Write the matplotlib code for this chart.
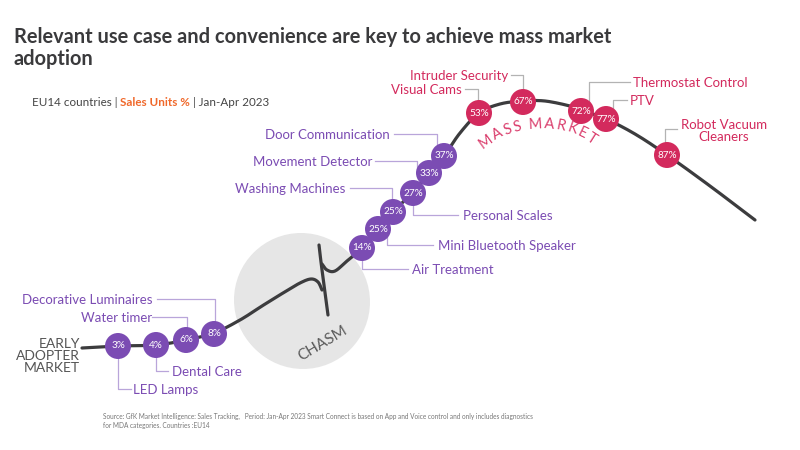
import numpy as np
import matplotlib
matplotlib.use("Agg")
import matplotlib.pyplot as plt
from matplotlib.patches import Circle
from matplotlib.font_manager import FontProperties
from matplotlib.textpath import text_to_path

plt.rcParams['font.family'] = ['Lato', 'DejaVu Sans']

# data
categories = ["LED Lamps", "Dental Care", "Water timer", "Decorative Luminaires",
              "Air Treatment", "Mini Bluetooth Speaker", "Washing Machines",
              "Personal Scales", "Movement Detector", "Door Communication",
              "Visual Cams", "Intruder Security", "Thermostat Control", "PTV",
              "Robot Vacuum\nCleaners"]
values = [3, 4, 6, 8, 14, 25, 25, 27, 33, 37, 53, 67, 72, 77, 87]
mass_market = [False] * 10 + [True] * 5

title_lines = ["Relevant use case and convenience are key to achieve mass market", "adoption"]
footer = ("Source: GfK Market Intelligence: Sales Tracking,   Period: Jan-Apr 2023 Smart Connect is based on App and Voice control and only includes diagnostics\n"
          "for MDA categories. Countries :EU14")

# layout (pixel space of the 800x450 canvas)
bubble_xy = [(118, 346), (156, 345), (186, 340), (214, 334), (362, 248), (378, 229),
             (393, 212), (413, 193), (429, 173), (444, 156), (479, 113), (523, 102),
             (581, 111), (606, 119), (667, 155)]
# leader: vertical x, horizontal y, end x of horizontal part
leaders = [(118, 389, 131), (156, 371, 168), (187, 317, 152), (215, 299, 157),
           (362, 269, 408), (387, 245, 433), (392, 188, 350), (413, 215, 458),
           (417, 161, 375), (437, 134, 394), (478, 89, 465), (523, 75, 511),
           (589, 82, 630), (613, 100, 627), (665, 129, 677)]
# label text anchor x, y, ha
label_pos = [(133, 389, 'left'), (172, 371, 'left'), (152, 317, 'right'),
             (152, 299, 'right'), (412, 269, 'left'), (438, 245, 'left'),
             (345, 188, 'right'), (463, 215, 'left'), (372, 161, 'right'),
             (390, 134, 'right'), (462, 89, 'right'), (508, 75, 'right'),
             (633, 82, 'left'), (630, 100, 'left'), (724, 131, 'center')]

curve_left = [(82, 348), (118, 346), (156, 345), (186, 340), (214, 333), (240, 320),
              (262, 306), (283, 293), (300, 283), (311, 279), (318, 282), (322, 290)]
curve_spike = [(319, 245), (321, 262), (324, 285), (328, 315)]
curve_right = [(322, 264), (327, 270), (335, 271), (347, 261), (362, 248),
               (378, 229), (393, 212), (413, 192), (429, 173), (444, 156), (460, 133),
               (479, 113), (500, 104), (523, 101), (545, 101), (570, 106), (581, 110),
               (606, 119), (635, 134), (667, 155), (710, 186), (755, 220)]

PURPLE = '#7b4cb3'
PINK = '#d32a5d'
PURPLE_LINE = '#b9a5da'
GREY_LINE = '#b3b3b3'
DARK = '#3c3c3e'


def smooth(points, n=12):
    p = np.array(points, dtype=float)
    p = np.vstack([2 * p[0] - p[1], p, 2 * p[-1] - p[-2]])
    out = []
    for i in range(1, len(p) - 2):
        p0, p1, p2, p3 = p[i - 1], p[i], p[i + 1], p[i + 2]
        for t in np.linspace(0, 1, n, endpoint=False):
            out.append(0.5 * ((2 * p1) + (-p0 + p2) * t
                              + (2 * p0 - 5 * p1 + 4 * p2 - p3) * t ** 2
                              + (-p0 + 3 * p1 - 3 * p2 + p3) * t ** 3))
    out.append(p[-2])
    return np.array(out)


fig = plt.figure(figsize=(8, 4.5), dpi=100)
ax = fig.add_axes([0, 0, 1, 1])
ax.set_xlim(0, 800)
ax.set_ylim(450, 0)
ax.axis('off')

# title / subtitle
for k, line in enumerate(title_lines):
    ax.text(14, 43 + 22 * k, line, fontsize=14.4, fontweight='bold',
            color='#3a3a3c', va='baseline')

fig.canvas.draw()
r = fig.canvas.get_renderer()
x = 32
for part, bold, col in [("EU14 countries | ", False, '#444444'),
                        ("Sales Units %", True, '#f0682a'),
                        (" | Jan-Apr 2023", False, '#444444')]:
    t = ax.text(x, 106, part, fontsize=8.4, color=col,
                fontweight='bold' if bold else 'normal')
    bb = t.get_window_extent(r)
    x = ax.transData.inverted().transform((bb.x1, bb.y0))[0]

# chasm circle
ax.add_patch(Circle((303, 302), 67, facecolor='#cfcfcf', edgecolor='none',
                    alpha=0.5, zorder=1))
ax.add_patch(Circle((301, 300), 67, facecolor='#e6e6e6', edgecolor='none', zorder=2))
ax.text(323, 343, "CHASM", fontsize=11, color='#5a5a5a',
        rotation=31, ha='center', va='center', rotation_mode='anchor', zorder=3)

# curve
for pts in (curve_left, curve_spike, curve_right):
    c = smooth(pts)
    ax.plot(c[:, 0], c[:, 1], color=DARK, lw=2.3, solid_capstyle='round', zorder=4)

# early adopter label
ax.text(80, 356, "EARLY\nADOPTER\nMARKET", fontsize=10, color='#555555',
        ha='right', va='center', linespacing=0.95, zorder=5)

# leaders, bubbles, labels
for i, name in enumerate(categories):
    bx, by = bubble_xy[i]
    lx, ly, lend = leaders[i]
    col = PINK if mass_market[i] else PURPLE
    lcol = GREY_LINE if mass_market[i] else PURPLE_LINE
    ax.plot([lx, lx, lend], [by, ly, ly], color=lcol, lw=0.9, zorder=3)
    ax.add_patch(Circle((bx, by), 13, facecolor=col, edgecolor='none', zorder=6))
    ax.text(bx, by, f"{values[i]}%", fontsize=7.2, color='white', ha='center',
            va='center', zorder=7)
    tx, ty, ha = label_pos[i]
    va = 'center_baseline' if '\n' not in name else 'center'
    ax.text(tx, ty, name, fontsize=9.5, color=col, ha=ha, va=va,
            linespacing=1.0, zorder=5)

# curved "MASS MARKET"
fp = FontProperties(family='Lato', weight='normal', size=10.5)
word = "MASS MARKET"
cx, cy, rad = 541, 219, 91
a_start, a_end = np.radians(-40), np.radians(35)
widths = [text_to_path.get_text_width_height_descent(ch, fp, ismath=False)[0] * 100 / 72
          for ch in word]
track = ((a_end - a_start) * rad - sum(widths)) / (len(word) - 1)
ang = a_start
for ch, w in zip(word, widths):
    a = ang + (w / 2) / rad
    px = cx + rad * np.sin(a)
    py = cy - rad * np.cos(a)
    ax.text(px, py, ch, fontproperties=fp, color='#da3d6c', ha='center', va='baseline',
            rotation=-np.degrees(a), rotation_mode='anchor', zorder=5)
    ang += (w + track) / rad

# footer
ax.text(103, 421, footer, fontsize=4.7, color='#777777', va='center', linespacing=1.3)

fig.savefig("out.png", dpi=100)
